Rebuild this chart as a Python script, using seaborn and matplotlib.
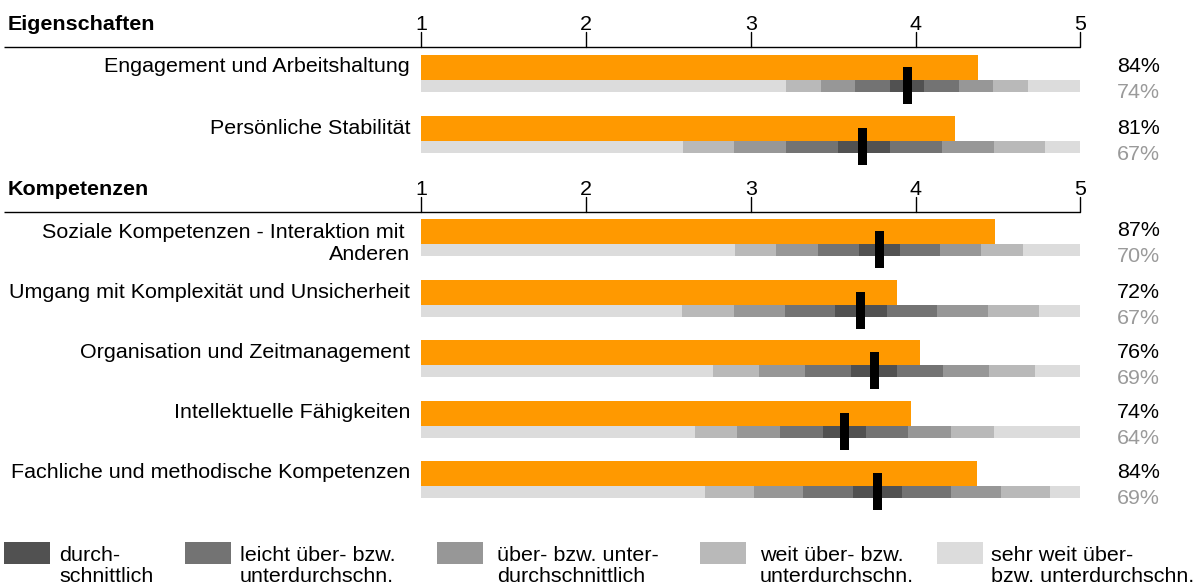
import numpy as np
import matplotlib.pyplot as plt
import seaborn as sns
from matplotlib.patches import Rectangle

# ---- data ----
section_titles = ["Eigenschaften", "Kompetenzen"]
labels = [
    "Engagement und Arbeitshaltung",
    "Persönliche Stabilität",
    "Soziale Kompetenzen - Interaktion mit \nAnderen",
    "Umgang mit Komplexität und Unsicherheit",
    "Organisation und Zeitmanagement",
    "Intellektuelle Fähigkeiten",
    "Fachliche und methodische Kompetenzen",
]
scores = [4.38, 4.24, 4.48, 3.89, 4.03, 3.97, 4.37]           # orange bars
norm_means = [3.95, 3.68, 3.78, 3.665, 3.75, 3.57, 3.77]       # black markers
# borders between the grey bands (sehr weit | weit | ueber | leicht | durchschn. | leicht | ueber | weit | sehr weit)
band_edges = [
    [3.214, 3.426, 3.632, 3.845, 4.051, 4.264, 4.470, 4.682],
    [2.588, 2.897, 3.214, 3.529, 3.845, 4.160, 4.476, 4.786],
    [2.904, 3.153, 3.408, 3.657, 3.906, 4.149, 4.397, 4.652],
    [2.582, 2.897, 3.208, 3.511, 3.827, 4.130, 4.440, 4.749],
    [2.771, 3.050, 3.329, 3.608, 3.887, 4.166, 4.446, 4.725],
    [2.661, 2.916, 3.177, 3.438, 3.699, 3.954, 4.215, 4.476],
    [2.722, 3.019, 3.317, 3.620, 3.918, 4.215, 4.519, 4.816],
]
pct_score = ["84%", "81%", "87%", "72%", "76%", "74%", "84%"]
pct_norm = ["74%", "67%", "70%", "67%", "69%", "64%", "69%"]
scale_ticks = [1, 2, 3, 4, 5]
legend_labels = [
    "durch-\nschnittlich",
    "leicht über- bzw.\nunterdurchschn.",
    "über- bzw. unter-\ndurchschnittlich",
    "weit über- bzw.\nunterdurchschn.",
    "sehr weit über-\nbzw. unterdurchschn.",
]

# ---- style ----
ORANGE = "#FF9900"
GREYS = ["#515151", "#737373", "#979797", "#B9B9B9", "#DCDCDC"]  # durchschn. -> sehr weit
band_colors = [GREYS[4], GREYS[3], GREYS[2], GREYS[1], GREYS[0],
               GREYS[1], GREYS[2], GREYS[3], GREYS[4]]

sns.set_theme(style="white")
plt.rcParams["font.family"] = ["Liberation Sans", "DejaVu Sans"]
plt.rcParams["text.color"] = "black"
FS = 15.45

W, H = 1201, 587
X1, PX_PER_UNIT = 421.3, 164.75


def px(x):
    """pixel column -> scale value"""
    return 1 + (x - X1) / PX_PER_UNIT


fig = plt.figure(figsize=(W / 100, H / 100), dpi=100)
ax = fig.add_axes([0, 0, 1, 1])
ax.set_xlim(px(0), px(W))
ax.set_ylim(H, 0)
ax.axis("off")

# section headers with scale
header_y = [47.3, 212.3]
for title, ly in zip(section_titles, header_y):
    ax.plot([px(4), 5], [ly, ly], color="black", lw=1.0, solid_capstyle="butt")
    for t in scale_ticks:
        ax.plot([t, t], [ly - 15.5, ly], color="black", lw=1.0)
        ax.text(t, ly - 23, str(t), ha="center", va="center", fontsize=FS)
    ax.text(px(8), ly - 23, title, ha="left", va="center", fontsize=FS, fontweight="bold")

row_tops = [55, 116, 219, 280, 340, 401, 461]
BAR_H, BAND_H, MARK_H = 24.5, 12.5, 37
MARK_W = 9 / PX_PER_UNIT

for i, top in enumerate(row_tops):
    yc = top + BAR_H / 2
    ax.barh(yc, scores[i] - 1, left=1, height=BAR_H, color=ORANGE, linewidth=0)
    edges = [1] + band_edges[i] + [5]
    starts = np.array(edges[:-1])
    widths = np.diff(edges)
    ax.barh(np.full(len(starts), top + BAR_H + BAND_H / 2), widths, left=starts,
            height=BAND_H, color=band_colors, linewidth=0)
    ax.barh(top + 12 + MARK_H / 2, MARK_W, left=norm_means[i] - MARK_W / 2,
            height=MARK_H, color="black", linewidth=0)
    two_lines = "\n" in labels[i]
    ax.text(px(410), top + (24.5 if two_lines else 12), labels[i], ha="right", va="center",
            fontsize=FS, linespacing=1.25)
    ax.text(px(1117), top + 12, pct_score[i], ha="left", va="center", fontsize=FS)
    ax.text(px(1117), top + 38, pct_norm[i], ha="left", va="center", fontsize=FS, color="#9A9A9A")

# legend
box_x = [4, 185, 437, 700, 937]
text_x = [59, 240, 497, 760, 991]
for bx, tx, col, lab in zip(box_x, text_x, GREYS, legend_labels):
    ax.add_patch(Rectangle((px(bx), 542), 46 / PX_PER_UNIT, 22, color=col, lw=0))
    ax.text(px(tx), 566, lab, ha="left", va="center", fontsize=FS, linespacing=1.1)

fig.savefig("out.png", dpi=100)
